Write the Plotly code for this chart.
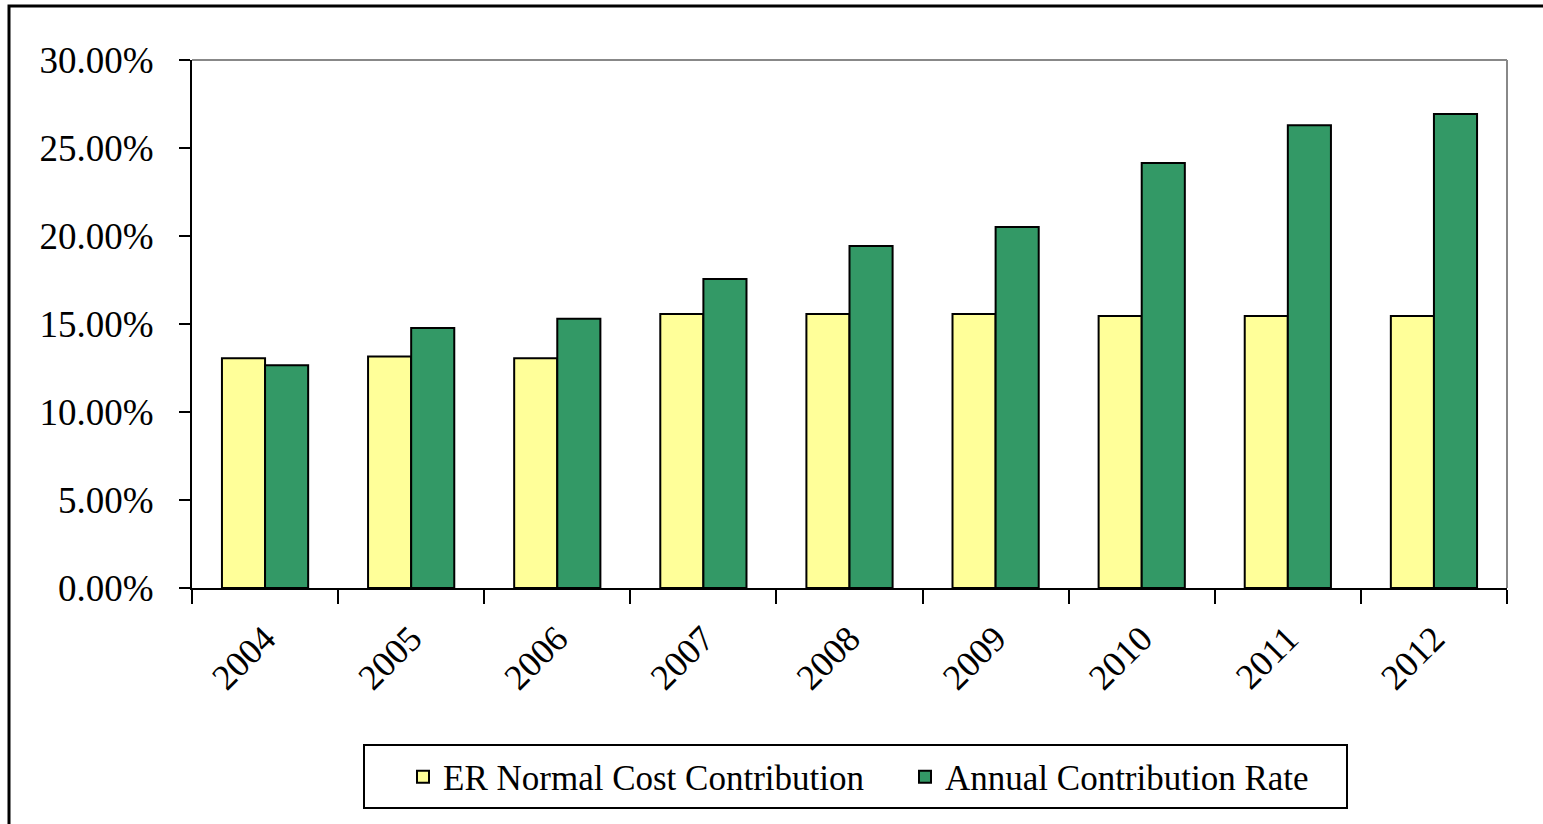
import plotly.graph_objects as go

years = ["2004", "2005", "2006", "2007", "2008", "2009", "2010", "2011", "2012"]
er_normal_cost = [13.05, 13.16, 13.05, 15.57, 15.57, 15.57, 15.45, 15.45, 15.45]
annual_rate = [12.65, 14.77, 15.30, 17.56, 19.43, 20.51, 24.15, 26.29, 26.93]
y_ticks = [0, 5, 10, 15, 20, 25, 30]
y_tick_text = ["0.00%", "5.00%", "10.00%", "15.00%", "20.00%", "25.00%", "30.00%"]

W, H = 1543, 824
FONT = "Liberation Serif"

def px(x):
    return x / W

def py(y):
    return 1 - y / H

fig = go.Figure()
fig.add_trace(go.Bar(x=years, y=er_normal_cost, name="ER Normal Cost Contribution",
                     marker=dict(color="#FFFF99", line=dict(color="black", width=2))))
fig.add_trace(go.Bar(x=years, y=annual_rate, name="Annual Contribution Rate",
                     marker=dict(color="#339966", line=dict(color="black", width=2))))

shapes = [
    # plot area gray border (top, right)
    dict(type="line", xref="paper", yref="paper", x0=px(192), x1=px(1507), y0=py(60), y1=py(60),
         line=dict(color="#888888", width=2)),
    dict(type="line", xref="paper", yref="paper", x0=px(1507), x1=px(1507), y0=py(60), y1=py(588),
         line=dict(color="#888888", width=2)),
    # outer chart border
    dict(type="path", xref="paper", yref="paper",
         path=f"M {px(9)},{py(830)} L {px(9)},{py(6)} L {px(1550)},{py(6)}",
         line=dict(color="black", width=3)),
    # legend box
    dict(type="rect", xref="paper", yref="paper", x0=px(364), x1=px(1347), y0=py(808), y1=py(745),
         line=dict(color="black", width=2), fillcolor="rgba(0,0,0,0)"),
]

fig.update_layout(
    width=W, height=H,
    margin=dict(l=0, r=0, t=0, b=0, autoexpand=False),
    paper_bgcolor="white", plot_bgcolor="white",
    barmode="group", bargap=0.41, bargroupgap=0,
    font=dict(family=FONT, color="black"),
    showlegend=True,
    legend=dict(orientation="h", x=px(403), y=py(777), xanchor="left", yanchor="middle",
                font=dict(family=FONT, size=35, color="black"),
                bgcolor="rgba(0,0,0,0)", borderwidth=0,
                itemwidth=30, entrywidth=457, entrywidthmode="pixels", traceorder="normal"),
    shapes=shapes,
    xaxis=dict(domain=[px(192), px(1507)], type="category", automargin=False,
               showline=True, linecolor="black", linewidth=2,
               ticks="outside", tickson="boundaries", ticklen=14, tickwidth=2, tickcolor="black",
               ticklabelstandoff=13,
               tickangle=-45, tickfont=dict(family=FONT, size=36, color="black"),
               showgrid=False, zeroline=False, fixedrange=True),
    yaxis=dict(domain=[py(588), py(60)], range=[0, 30], automargin=False,
               tickvals=y_ticks, ticktext=y_tick_text,
               showline=True, linecolor="black", linewidth=2,
               ticks="outside", ticklen=11, tickwidth=2, tickcolor="black",
               ticklabelstandoff=18,
               tickfont=dict(family=FONT, size=37, color="black"),
               showgrid=False, zeroline=False, fixedrange=True),
)

fig.write_html("out.html")
